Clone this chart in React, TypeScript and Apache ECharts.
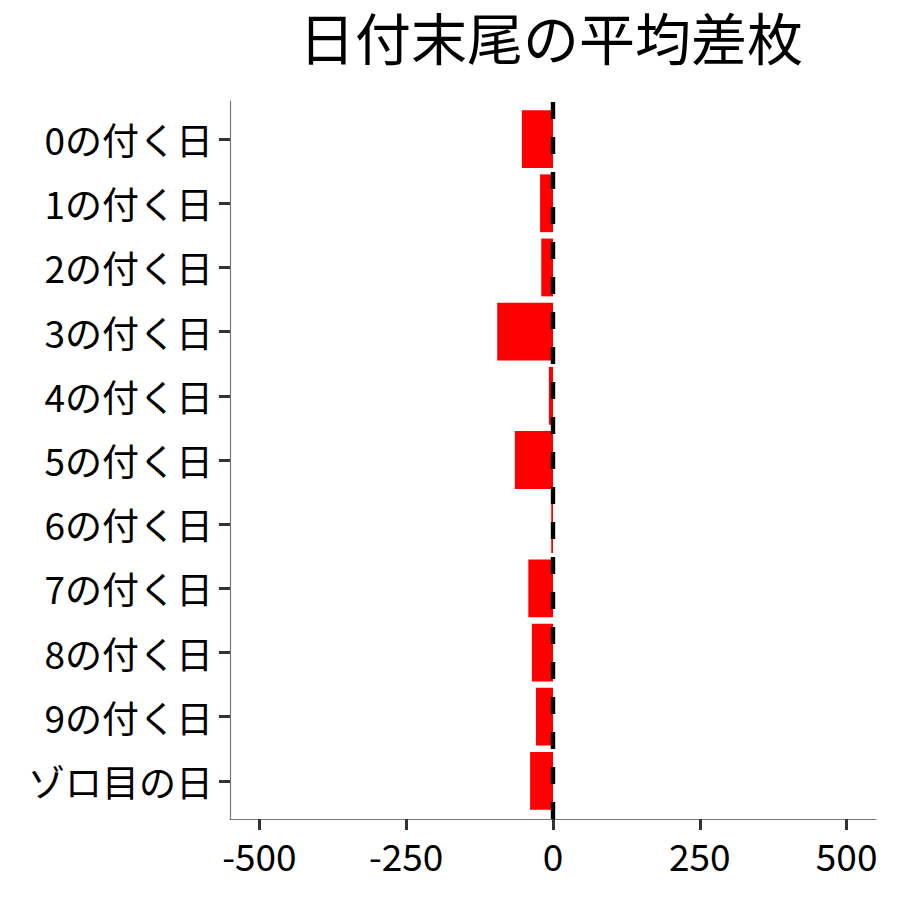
import React, { useEffect, useRef } from 'react';
import * as echarts from 'echarts';

const categories: string[] = [
    '0の付く日',
    '1の付く日',
    '2の付く日',
    '3の付く日',
    '4の付く日',
    '5の付く日',
    '6の付く日',
    '7の付く日',
    '8の付く日',
    '9の付く日',
    'ゾロ目の日',
];

const averageDiff: number[] = [-53, -22, -20, -95, -7, -65, -3, -42, -36, -29, -39];

const xTicks: number[] = [-500, -250, 0, 250, 500];

const FONT = '"Noto Sans CJK JP", "Noto Sans", sans-serif';

function buildOption(): echarts.EChartsOption {
    return {
        animation: false,
        backgroundColor: '#ffffff',
        title: {
            text: '日付末尾の平均差枚',
            left: 294,
            top: 2,
            textStyle: { fontFamily: FONT, fontSize: 56, fontWeight: 'normal', color: '#000' },
        },
        grid: [
            // outer panel: axis lines + x labels + reference line
            { left: 230, width: 646, top: 101, height: 718 },
            // inner panel: category bands
            { left: 230, width: 646, top: 107, height: 706 },
        ],
        xAxis: [
            {
                type: 'value',
                gridIndex: 0,
                min: -550,
                max: 550,
                splitLine: { show: false },
                axisLine: { show: true, onZero: false, lineStyle: { color: '#777', width: 1.2 } },
                axisTick: {
                    show: true,
                    length: 11,
                    customValues: xTicks,
                    lineStyle: { color: '#333', width: 3 },
                },
                axisLabel: {
                    customValues: xTicks,
                    margin: 17,
                    color: '#000',
                    fontSize: 37,
                    fontFamily: FONT,
                },
            },
            {
                type: 'value',
                gridIndex: 1,
                min: -550,
                max: 550,
                show: false,
            },
        ],
        yAxis: [
            {
                type: 'value',
                gridIndex: 0,
                min: 0,
                max: 1,
                splitLine: { show: false },
                axisLine: { show: true, onZero: false, lineStyle: { color: '#777', width: 1.2 } },
                axisTick: { show: false },
                axisLabel: { show: false },
            },
            {
                type: 'category',
                gridIndex: 1,
                data: categories,
                inverse: true,
                axisLine: { show: false, onZero: false },
                axisTick: {
                    show: true,
                    alignWithLabel: true,
                    length: 11,
                    lineStyle: { color: '#333', width: 3 },
                },
                axisLabel: {
                    margin: 17,
                    color: '#000',
                    fontSize: 37,
                    fontFamily: FONT,
                },
            },
        ],
        series: [
            {
                type: 'bar',
                xAxisIndex: 1,
                yAxisIndex: 1,
                data: averageDiff,
                barCategoryGap: '10%',
                itemStyle: { color: '#ff0000' },
                silent: true,
            },
            {
                type: 'scatter',
                xAxisIndex: 0,
                yAxisIndex: 0,
                data: [[0, 0.5]],
                symbolSize: 0,
                silent: true,
                z: 5,
                markLine: {
                    silent: true,
                    symbol: 'none',
                    label: { show: false },
                    lineStyle: { color: '#000', width: 4.4, type: [17, 18] },
                    data: [{ xAxis: 0 }],
                },
            },
        ],
    };
}

export default function App(): JSX.Element {
    const chartRef = useRef<HTMLDivElement>(null);

    useEffect(() => {
        document.body.style.margin = '0';
        let chart: echarts.ECharts | undefined;
        if (chartRef.current !== null) {
            chart = echarts.init(chartRef.current, undefined, { renderer: 'svg' });
            chart.setOption(buildOption());
        }
        return () => {
            chart?.dispose();
        };
    }, []);

    return <div ref={chartRef} style={{ width: 900, height: 900 }} />;
}
